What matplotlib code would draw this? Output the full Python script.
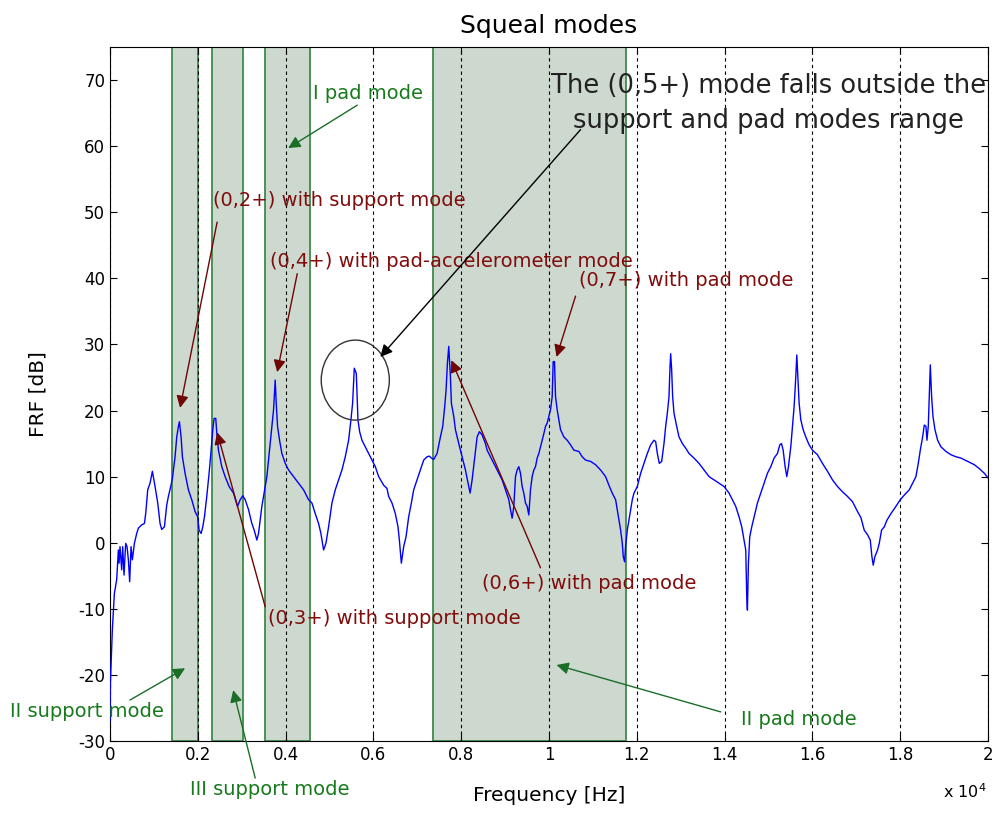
import numpy as np
import matplotlib
matplotlib.use("Agg")
import matplotlib.pyplot as plt
from matplotlib.patches import Ellipse
from matplotlib.ticker import FuncFormatter

plt.rcParams['axes.unicode_minus'] = False

# FRF curve (Hz, dB)
freq = [0, 10, 23, 53, 99, 152, 190, 205, 228, 266, 289, 319, 357, 388, 418, 448, 479, 509, 555,
        608, 646, 722, 783, 813, 859, 912, 965, 1026, 1087, 1140, 1178, 1239, 1292, 1330, 1383,
        1421, 1444, 1482, 1520, 1558, 1581, 1619, 1649, 1710, 1786, 1862, 1938, 1999, 2029, 2075,
        2113, 2151, 2204, 2257, 2303, 2341, 2371, 2409, 2432, 2470, 2546, 2622, 2713, 2813, 2904,
        2965, 3025, 3079, 3155, 3231, 3284, 3345, 3383, 3421, 3459, 3497, 3535, 3573, 3611, 3649,
        3687, 3725, 3763, 3786, 3816, 3862, 3915, 3991, 4067, 4181, 4295, 4409, 4523, 4599, 4675,
        4751, 4804, 4865, 4918, 4979, 5055, 5131, 5207, 5283, 5359, 5435, 5488, 5526, 5564, 5610,
        5648, 5686, 5739, 5815, 5929, 6043, 6119, 6233, 6309, 6347, 6423, 6499, 6560, 6591, 6636,
        6689, 6743, 6803, 6864, 6917, 6993, 7070, 7145, 7222, 7275, 7320, 7374, 7450, 7526, 7579,
        7624, 7655, 7685, 7716, 7754, 7776, 7830, 7868, 7944, 8020, 8096, 8172, 8202, 8248, 8309,
        8362, 8415, 8476, 8552, 8590, 8704, 8818, 8932, 9008, 9084, 9122, 9160, 9198, 9236, 9274,
        9312, 9350, 9388, 9426, 9464, 9502, 9540, 9578, 9616, 9654, 9692, 9730, 9768, 9806, 9844,
        9882, 9920, 9958, 9996, 10034, 10072, 10095, 10125, 10148, 10186, 10224, 10262, 10338,
        10414, 10490, 10566, 10680, 10756, 10832, 10946, 11060, 11174, 11288, 11364, 11440, 11517,
        11555, 11593, 11631, 11669, 11691, 11722, 11745, 11783, 11821, 11859, 11897, 11935, 12011,
        12087, 12163, 12239, 12315, 12391, 12429, 12467, 12512, 12566, 12619, 12657, 12695, 12733,
        12756, 12771, 12794, 12816, 12847, 12908, 12961, 13037, 13113, 13189, 13303, 13417, 13531,
        13645, 13759, 13873, 13987, 14101, 14139, 14253, 14329, 14390, 14443, 14481, 14504, 14519,
        14542, 14572, 14618, 14671, 14747, 14823, 14899, 14975, 15051, 15127, 15203, 15257, 15295,
        15333, 15378, 15416, 15454, 15507, 15545, 15583, 15621, 15644, 15667, 15697, 15735, 15789,
        15849, 15925, 16001, 16115, 16229, 16343, 16457, 16571, 16685, 16799, 16913, 17028, 17104,
        17180, 17256, 17317, 17355, 17385, 17423, 17484, 17522, 17575, 17636, 17697, 17788, 17902,
        18001, 18092, 18206, 18282, 18358, 18411, 18457, 18510, 18548, 18586, 18609, 18639, 18662,
        18685, 18715, 18746, 18791, 18852, 18928, 19042, 19156, 19270, 19384, 19536, 19688, 19802,
        19916, 20000]
frf = [-27.0, -21.0, -18.5, -13.2, -7.7, -5.6, -1.1, -3.1, -0.6, -4.1, -0.6, -4.9, -0.1, -0.6,
       -2.6, -5.9, -0.6, -2.6, -0.1, 1.4, 2.2, 2.7, 2.9, 4.4, 8.0, 9.0, 10.8, 8.5, 6.0, 2.9, 2.0,
       2.4, 5.7, 7.0, 8.5, 9.7, 11.0, 13.0, 16.0, 17.6, 18.3, 16.0, 13.0, 10.5, 8.0, 6.5, 4.7, 3.9,
       1.9, 1.4, 2.4, 3.9, 7.0, 10.5, 14.0, 17.1, 18.8, 18.8, 16.6, 14.0, 11.5, 10.0, 8.5, 7.5,
       5.5, 6.5, 7.1, 6.5, 5.0, 2.9, 1.9, 0.4, 1.4, 3.4, 5.5, 7.0, 8.5, 10.0, 12.5, 15.0, 17.6,
       20.1, 24.6, 21.1, 17.6, 15.5, 13.5, 12.0, 11.0, 10.0, 9.0, 8.0, 6.5, 6.0, 4.4, 2.9, 1.4,
       -1.1, -0.1, 2.4, 6.0, 8.0, 9.5, 11.0, 13.0, 15.5, 18.6, 21.1, 26.4, 25.6, 18.6, 16.8, 15.5,
       14.5, 13.0, 11.5, 10.0, 8.7, 8.2, 7.0, 6.0, 4.4, 2.4, 0.4, -3.1, -0.6, 0.9, 3.9, 6.0, 8.0,
       9.5, 11.0, 12.5, 13.0, 13.1, 12.8, 12.6, 13.5, 16.0, 17.6, 20.6, 23.1, 27.1, 29.7, 25.1,
       21.1, 19.1, 17.1, 15.0, 13.0, 11.0, 8.5, 7.5, 9.5, 13.0, 16.0, 16.8, 16.3, 15.0, 14.0, 12.5,
       11.0, 9.5, 8.0, 6.5, 5.0, 3.7, 5.5, 10.0, 11.0, 11.5, 10.5, 8.5, 7.5, 6.0, 5.5, 4.2, 8.0,
       10.0, 11.0, 11.5, 12.8, 13.5, 14.5, 15.5, 16.5, 17.6, 18.1, 19.1, 20.1, 22.1, 27.4, 27.4,
       22.1, 20.1, 18.6, 17.1, 16.0, 15.5, 14.8, 14.0, 13.8, 13.0, 12.5, 12.3, 11.8, 11.0, 10.0,
       8.7, 7.5, 6.5, 5.0, 3.4, 1.9, -0.1, -2.1, -2.9, -0.6, 1.9, 3.4, 5.0, 6.5, 7.5, 8.5, 10.5,
       12.0, 13.5, 14.8, 15.5, 15.3, 13.5, 12.0, 12.3, 15.0, 17.6, 19.6, 22.1, 26.6, 28.6, 26.1,
       22.1, 19.6, 17.6, 16.0, 15.0, 14.3, 13.5, 12.8, 12.0, 11.0, 10.0, 9.5, 9.0, 8.5, 7.5, 7.0,
       5.5, 3.9, 2.4, 0.4, -1.1, -8.2, -10.2, -3.1, 0.9, 2.4, 3.9, 6.0, 7.5, 9.0, 10.5, 11.5, 12.8,
       13.5, 14.8, 15.0, 14.0, 11.5, 10.0, 11.5, 14.5, 17.6, 20.6, 25.1, 28.4, 25.1, 21.1, 18.6,
       17.1, 16.0, 14.8, 14.0, 13.3, 12.0, 10.8, 9.5, 8.5, 7.7, 7.0, 6.2, 4.7, 3.8, 1.9, 1.2, 0.4,
       -2.1, -3.4, -2.1, -1.1, -0.1, 1.9, 2.4, 3.4, 4.4, 5.5, 6.5, 7.2, 8.0, 9.0, 10.0, 12.0, 14.0,
       16.0, 17.8, 17.6, 15.5, 17.6, 22.1, 26.9, 22.1, 19.1, 17.1, 15.5, 14.5, 13.8, 13.3, 13.0,
       12.8, 12.3, 11.8, 11.2, 10.5, 9.8]

# shaded mode bands (Hz)
band_lo = [1412, 2326, 3540, 7368]
band_hi = [2006, 3034, 4560, 11745]

# (label, text x, text y, arrow tail x, tail y, head x, head y)
red_notes = [
    ("(0,2+) with support mode", 2349, 51.8, 2440, 48.5, 1596, 20.4),
    ("(0,4+) with pad-accelerometer mode", 3649, 42.5, 4265, 40.7, 3808, 25.8),
    ("(0,7+) with pad mode", 10673, 39.6, 10604, 37.3, 10171, 28.1),
    ("(0,6+) with pad mode", 8483, -6.1, 9806, -3.8, 7776, 27.6),
    ("(0,3+) with support mode", 3603, -11.5, 3535, -9.7, 2440, 16.7),
]
green_notes = [
    ("I pad mode", 4629, 68.0, 5633, 66.2, 4059, 59.7),
    ("II support mode", -2280, -25.5, 456, -23.8, 1710, -19.0),
    ("III support mode", 1824, -37.3, 3307, -35.6, 2805, -22.3),
    ("II pad mode", 14367, -26.8, 13911, -25.6, 10171, -18.5),
]

fig = plt.figure(figsize=(9.92, 8.14), dpi=100)
ax = fig.add_axes([0.1109, 0.0897, 0.8851, 0.8526])

for lo, hi in zip(band_lo, band_hi):
    ax.axvspan(lo, hi, facecolor='#cdd8cf', edgecolor='#3f8a4c', lw=1.3, zorder=1)

ax.plot(freq, frf, color='#0000ff', lw=1.0, zorder=3)

ax.set_xlim(0, 20000)
ax.set_ylim(-30, 75)
ax.set_xticks(np.arange(0, 20001, 2000))
ax.set_yticks(np.arange(-30, 71, 10))
ax.xaxis.set_major_formatter(FuncFormatter(lambda v, p: '%g' % (v / 1e4)))
ax.tick_params(direction='in', top=True, right=True, labelsize=12, length=5)
ax.grid(True, axis='x', color='black', linestyle=(0, (3, 3)), lw=0.8)

ax.set_title('Squeal modes', fontsize=18, pad=10)
ax.set_xlabel('Frequency [Hz]', fontsize=14.5, labelpad=16)
ax.set_ylabel('FRF [dB]', fontsize=14.5, labelpad=22)
fig.text(0.9506, 0.027, 'x 10$^{4}$', fontsize=11.5, ha='left', va='center')

for label, tx, ty, ax0, ay0, hx, hy in red_notes:
    ax.text(tx, ty, label, color='#800c0c', fontsize=14, ha='left', va='center', zorder=5)
    ax.annotate('', xy=(hx, hy), xytext=(ax0, ay0),
                arrowprops=dict(arrowstyle='-|>', color='#6e0606', lw=1.0, mutation_scale=18,
                                shrinkA=0, shrinkB=0), zorder=5)

for label, tx, ty, ax0, ay0, hx, hy in green_notes:
    ax.text(tx, ty, label, color='#177a1c', fontsize=14, ha='left', va='center',
            zorder=5, clip_on=False)
    ax.annotate('', xy=(hx, hy), xytext=(ax0, ay0), annotation_clip=False,
                arrowprops=dict(arrowstyle='-|>', color='#1b6e28', lw=1.0, mutation_scale=18,
                                shrinkA=0, shrinkB=0), zorder=5)

# the (0,5+) peak outside the bands
ax.add_patch(Ellipse((5587, 24.6), 1551, 12.1, fill=False, edgecolor='#333333', lw=1.0, zorder=4))
ax.text(15006, 66.4, 'The (0,5+) mode falls outside the\nsupport and pad modes range',
        fontsize=18.5, color='#222222', ha='center', va='center', linespacing=1.45, zorder=5)
ax.annotate('', xy=(6157, 28.1), xytext=(10719, 62.5),
            arrowprops=dict(arrowstyle='-|>', color='black', lw=1.0, mutation_scale=18,
                            shrinkA=0, shrinkB=0), zorder=5)

fig.savefig('out.png', dpi=100)
